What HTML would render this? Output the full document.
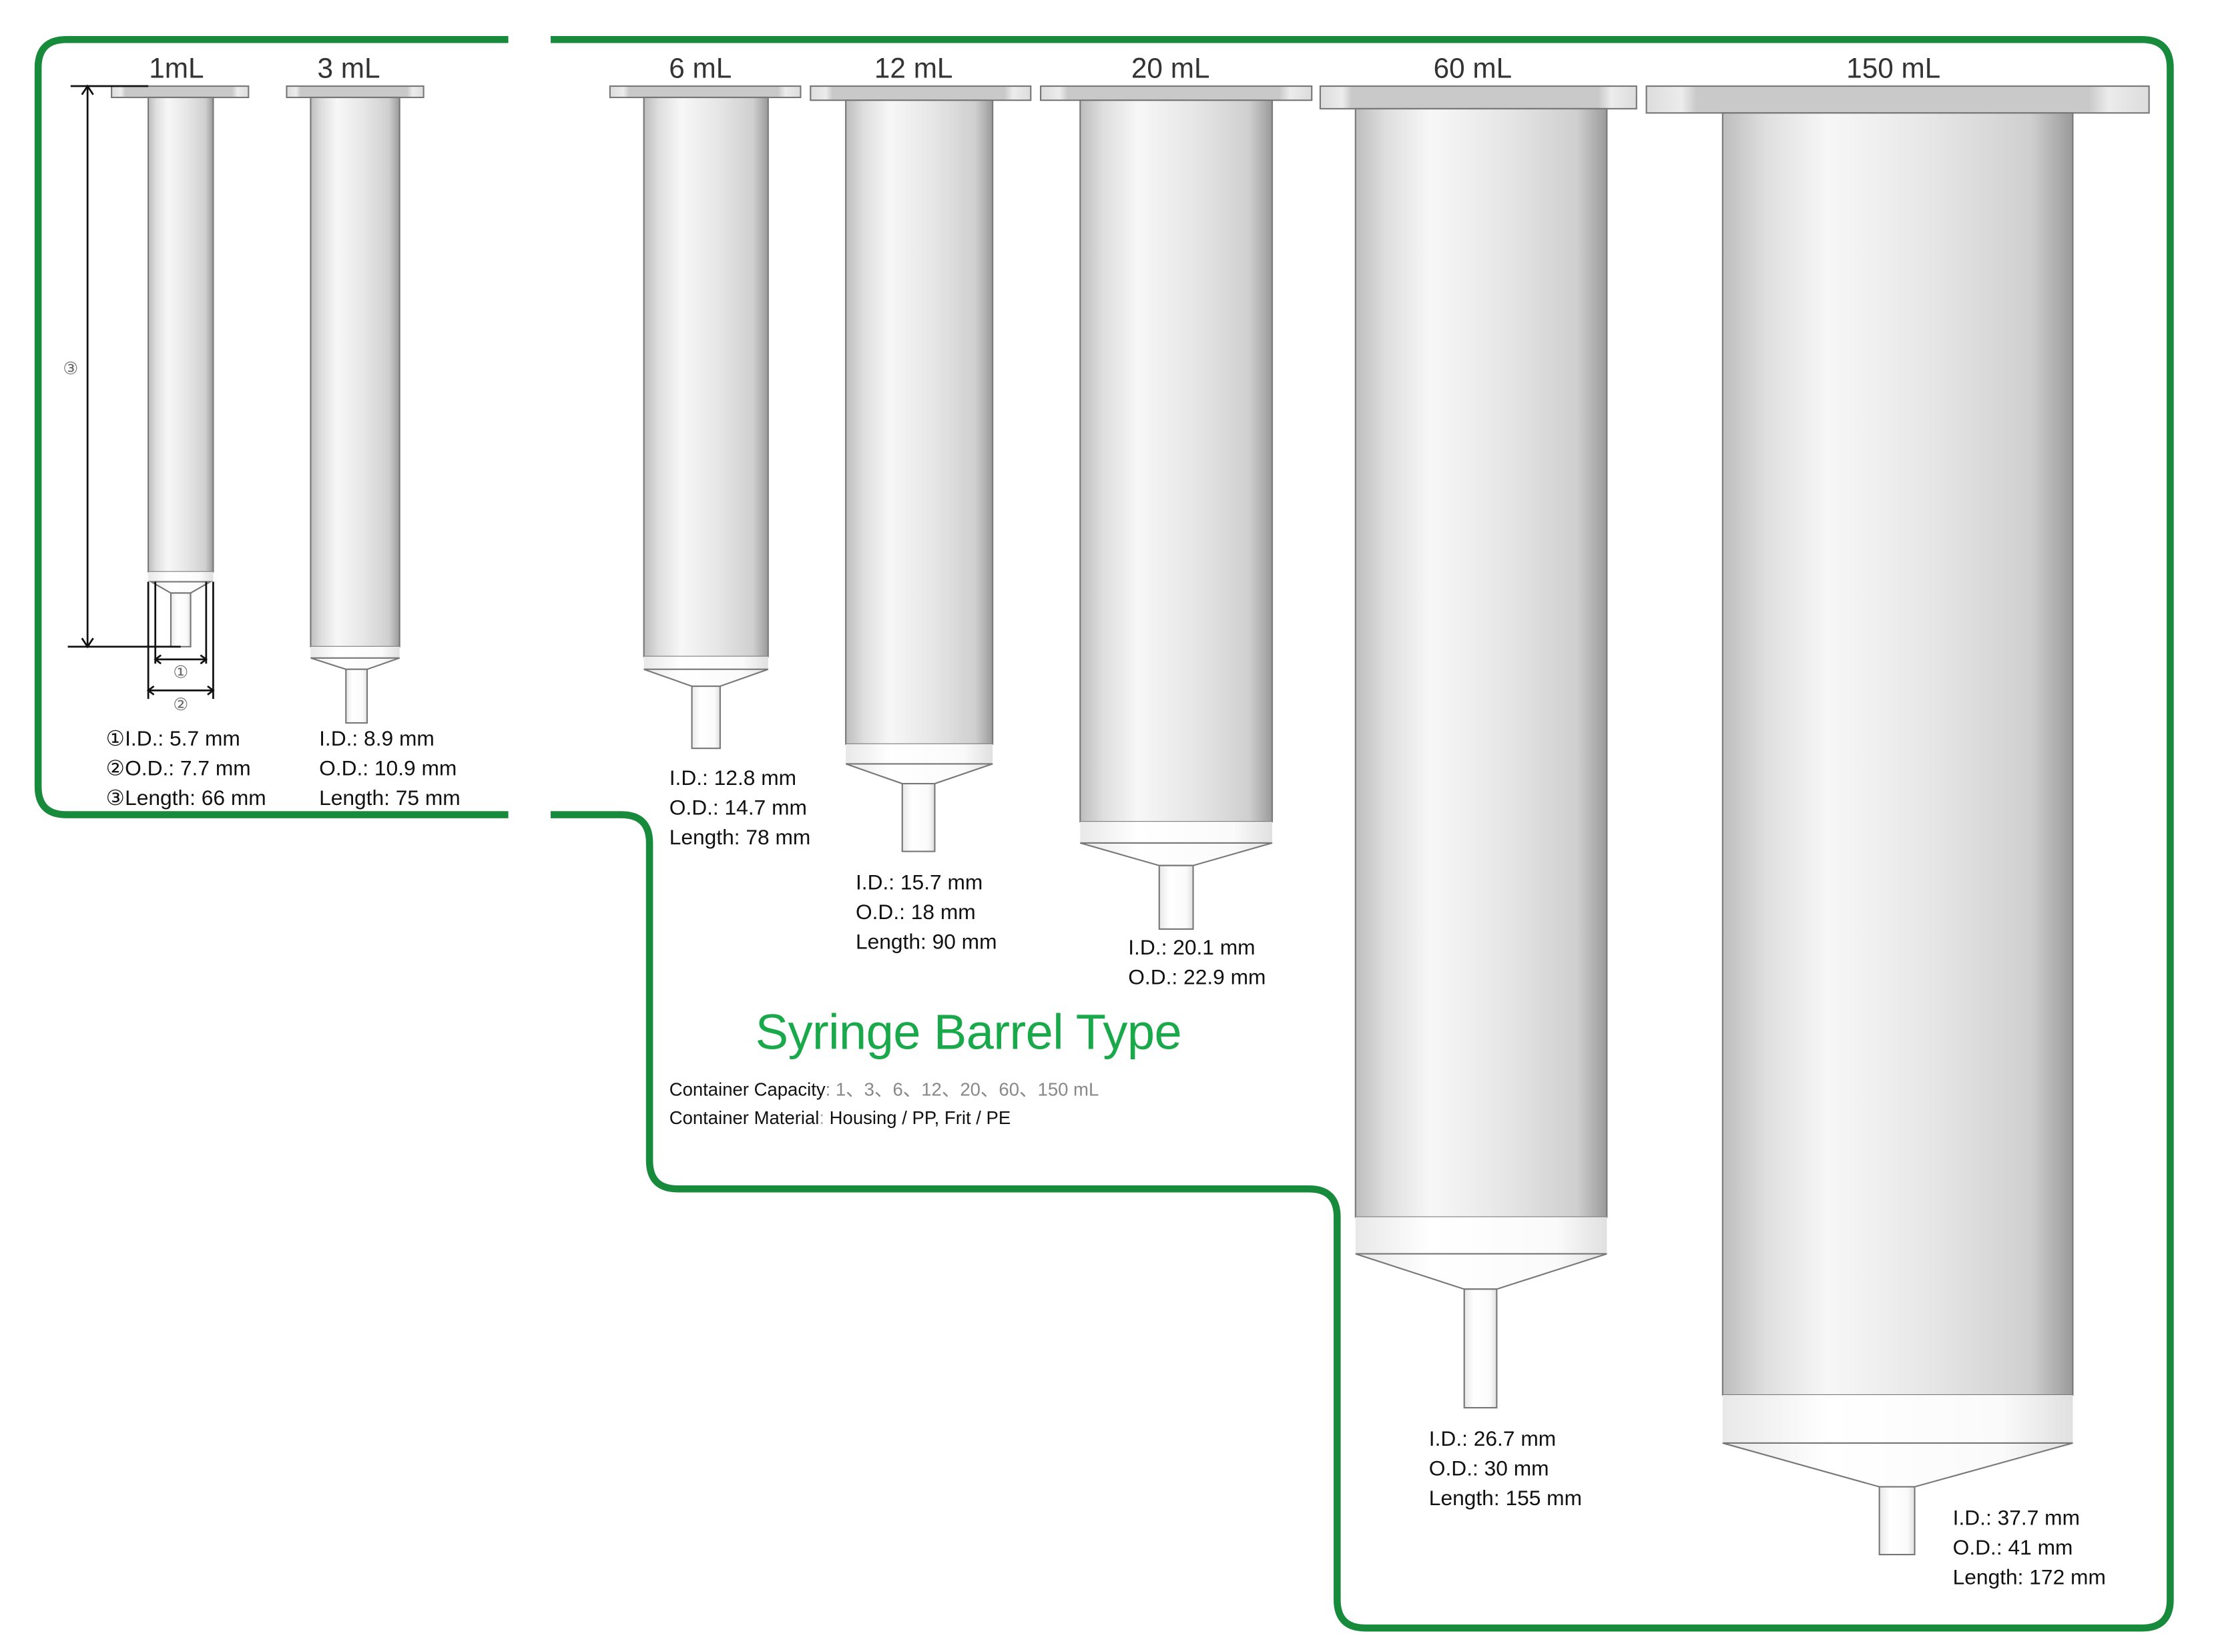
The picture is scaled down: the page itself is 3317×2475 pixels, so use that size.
<!DOCTYPE html>
<html><head><meta charset="utf-8"><style>
html,body{margin:0;padding:0;background:#fff}
svg{display:block}
text{font-family:"Liberation Sans Narrow","Liberation Sans",sans-serif}
.t{font-size:20px;fill:#333;text-anchor:middle}
.s{font-size:15px;fill:#111}
</style></head><body>
<svg width="3317" height="2475" viewBox="0 0 1568 1170" preserveAspectRatio="none" xmlns="http://www.w3.org/2000/svg">
<defs>
<linearGradient id="b" x1="0" x2="1" y1="0" y2="0">
<stop offset="0" stop-color="#bdbdbd"/><stop offset="0.12" stop-color="#dedede"/><stop offset="0.3" stop-color="#f7f7f7"/><stop offset="0.6" stop-color="#e6e6e6"/><stop offset="0.88" stop-color="#cfcfcf"/><stop offset="1" stop-color="#9a9a9a"/>
</linearGradient>
<linearGradient id="w" x1="0" x2="1" y1="0" y2="0">
<stop offset="0" stop-color="#e8e8e8"/><stop offset="0.3" stop-color="#fff"/><stop offset="0.8" stop-color="#fafafa"/><stop offset="1" stop-color="#e0e0e0"/>
</linearGradient>
<linearGradient id="f" x1="0" x2="1" y1="0" y2="0">
<stop offset="0" stop-color="#dcdcdc"/><stop offset="0.07" stop-color="#ececec"/><stop offset="0.1" stop-color="#c9c9c9"/><stop offset="0.88" stop-color="#c9c9c9"/><stop offset="0.92" stop-color="#ececec"/><stop offset="1" stop-color="#dcdcdc"/>
</linearGradient>
</defs>

<g fill="none" stroke="#188a3b" stroke-width="5">
<path d="M360,28 H47 Q27,28 27,48 V557 Q27,577 47,577 H360"/>
<path d="M390,577 H440 Q460,577 460,597 V822 Q460,842 480,842 H927 Q947,842 947,862 V1133 Q947,1153 967,1153 H1517 Q1537,1153 1537,1133 V48 Q1537,28 1517,28 H390"/>
</g>

<g stroke="#777" stroke-width="1">
<rect x="79" y="61" width="97" height="8" fill="url(#f)"/>
<rect x="105" y="69" width="46" height="336" fill="url(#b)"/>
<rect x="105" y="405" width="46" height="7" fill="url(#w)" stroke="none"/>
<path d="M107,412 L149,412 L135,420 L121,420 Z" fill="url(#w)"/>
<rect x="121" y="420" width="14" height="38" fill="url(#w)"/>
<rect x="203" y="61" width="97" height="8" fill="url(#f)"/>
<rect x="220" y="69" width="63" height="389" fill="url(#b)"/>
<rect x="220" y="458" width="63" height="8" fill="url(#w)" stroke="none"/>
<path d="M220,466 L283,466 L260,474 L245,474 Z" fill="url(#w)"/>
<rect x="245" y="474" width="15" height="38" fill="url(#w)"/>
<rect x="432" y="61" width="135" height="8" fill="url(#f)"/>
<rect x="456" y="69" width="88" height="396" fill="url(#b)"/>
<rect x="456" y="465" width="88" height="9" fill="url(#w)" stroke="none"/>
<path d="M456,474 L544,474 L510,486 L490,486 Z" fill="url(#w)"/>
<rect x="490" y="486" width="20" height="44" fill="url(#w)"/>
<rect x="574" y="61" width="156" height="10" fill="url(#f)"/>
<rect x="599" y="71" width="104" height="456" fill="url(#b)"/>
<rect x="599" y="527" width="104" height="14" fill="url(#w)" stroke="none"/>
<path d="M599,541 L703,541 L662,555 L639,555 Z" fill="url(#w)"/>
<rect x="639" y="555" width="23" height="48" fill="url(#w)"/>
<rect x="737" y="61" width="192" height="10" fill="url(#f)"/>
<rect x="765" y="71" width="136" height="511" fill="url(#b)"/>
<rect x="765" y="582" width="136" height="15" fill="url(#w)" stroke="none"/>
<path d="M765,597 L901,597 L845,613 L821,613 Z" fill="url(#w)"/>
<rect x="821" y="613" width="24" height="45" fill="url(#w)"/>
<rect x="935" y="61" width="224" height="16" fill="url(#f)"/>
<rect x="960" y="77" width="178" height="785" fill="url(#b)"/>
<rect x="960" y="862" width="178" height="26" fill="url(#w)" stroke="none"/>
<path d="M960,888 L1138,888 L1060,913 L1037,913 Z" fill="url(#w)"/>
<rect x="1037" y="913" width="23" height="84" fill="url(#w)"/>
<rect x="1166" y="61" width="356" height="19" fill="url(#f)"/>
<rect x="1220" y="80" width="248" height="908" fill="url(#b)"/>
<rect x="1220" y="988" width="248" height="34" fill="url(#w)" stroke="none"/>
<path d="M1220,1022 L1468,1022 L1356,1053 L1331,1053 Z" fill="url(#w)"/>
<rect x="1331" y="1053" width="25" height="48" fill="url(#w)"/>
</g>

<g stroke="#111" stroke-width="1.3" fill="none">
<line x1="50" y1="61" x2="105" y2="61"/>
<line x1="48" y1="458" x2="128" y2="458"/>
<line x1="62" y1="62" x2="62" y2="457"/>
<path d="M58,67 L62,61 L66,67 M58,452 L62,458 L66,452"/>
<line x1="105" y1="412" x2="105" y2="495"/>
<line x1="151" y1="412" x2="151" y2="495"/>
<line x1="110" y1="412" x2="110" y2="470"/>
<line x1="146" y1="412" x2="146" y2="470"/>
<line x1="110" y1="467" x2="146" y2="467"/>
<line x1="105" y1="489" x2="151" y2="489"/>
<path d="M114,464 L110,467 L114,470 M142,464 L146,467 L142,470 M109,486 L105,489 L109,492 M147,486 L151,489 L147,492"/>
</g>
<g font-size="12" fill="#666" text-anchor="middle" font-family="DejaVu Sans,sans-serif">
<text x="50" y="265">③</text><text x="128" y="480">①</text><text x="128" y="503">②</text>
</g>

<text class="t" x="125" y="55">1mL</text>
<text class="t" x="247" y="55">3 mL</text>
<text class="t" x="496" y="55">6 mL</text>
<text class="t" x="647" y="55">12 mL</text>
<text class="t" x="829" y="55">20 mL</text>
<text class="t" x="1043" y="55">60 mL</text>
<text class="t" x="1341" y="55">150 mL</text>

<g class="s">
<text class="s" x="75" y="528">①I.D.: 5.7 mm</text>
<text class="s" x="75" y="549">②O.D.: 7.7 mm</text>
<text class="s" x="75" y="570">③Length: 66 mm</text>
<text class="s" x="226" y="528">I.D.: 8.9 mm</text>
<text class="s" x="226" y="549">O.D.: 10.9 mm</text>
<text class="s" x="226" y="570">Length: 75 mm</text>
<text class="s" x="474" y="556">I.D.: 12.8 mm</text>
<text class="s" x="474" y="577">O.D.: 14.7 mm</text>
<text class="s" x="474" y="598">Length: 78 mm</text>
<text class="s" x="606" y="630">I.D.: 15.7 mm</text>
<text class="s" x="606" y="651">O.D.: 18 mm</text>
<text class="s" x="606" y="672">Length: 90 mm</text>
<text class="s" x="799" y="676">I.D.: 20.1 mm</text>
<text class="s" x="799" y="697">O.D.: 22.9 mm</text>
<text class="s" x="1012" y="1024">I.D.: 26.7 mm</text>
<text class="s" x="1012" y="1045">O.D.: 30 mm</text>
<text class="s" x="1012" y="1066">Length: 155 mm</text>
<text class="s" x="1383" y="1080">I.D.: 37.7 mm</text>
<text class="s" x="1383" y="1101">O.D.: 41 mm</text>
<text class="s" x="1383" y="1122">Length: 172 mm</text>
</g>

<text x="535" y="743" font-size="35" fill="#1aa94a" textLength="302">Syringe Barrel Type</text>
<text x="474" y="776" font-size="13" fill="#111">Container Capacity<tspan fill="#888">: 1、3、6、12、20、60、150 mL</tspan></text>
<text x="474" y="796" font-size="13" fill="#111">Container Material<tspan fill="#aaa">: </tspan> Housing / PP, Frit / PE</text>
</svg>
</body></html>
